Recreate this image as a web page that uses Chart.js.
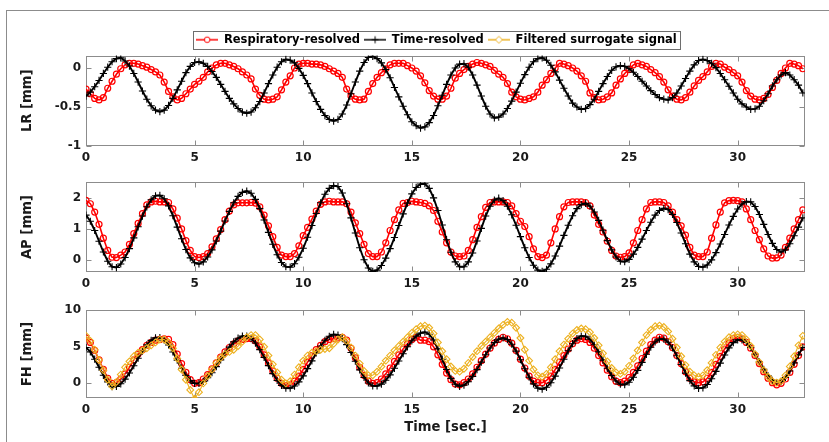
<!DOCTYPE html>
<html>
<head>
<meta charset="utf-8">
<title>LR / AP / FH motion</title>
<script src="https://cdn.jsdelivr.net/npm/chart.js@4.4.1/dist/chart.umd.min.js"></script>
<style>
  html, body { margin: 0; padding: 0; background: #fff; }
  #wrap { position: relative; width: 829px; height: 442px; overflow: hidden; }
  #frame { position: absolute; left: 6px; top: 10px; width: 840px; height: 450px;
           border-left: 1px solid #8c8c8c; border-top: 1px solid #8c8c8c; }
  canvas { position: absolute; left: 0; }
  #lrChart { top: 0; }
  #apChart { top: 170px; }
  #fhChart { top: 298px; }
</style>
</head>
<body>
<div id="wrap">
  <div id="frame"></div>
  <canvas id="lrChart" width="829" height="170"></canvas>
  <canvas id="apChart" width="829" height="128"></canvas>
  <canvas id="fhChart" width="829" height="144"></canvas>
</div>
<script>
// samples every 0.2 s, from 0 to 33 s (10 values per row = 2 s)
const SAMPLE_STEP = 0.2;

const timeTicks = [0, 5, 10, 15, 20, 25, 30];
const lrTicks = [-1, -0.5, 0];
const apTicks = [0, 1, 2];
const fhTicks = [0, 5, 10];

// LR [mm]
const lrResp = [
  -0.27,-0.33,-0.39,-0.41,-0.38,-0.26,-0.17,-0.08,-0.01,0.04,
  0.06,0.06,0.05,0.03,0.01,-0.02,-0.05,-0.09,-0.18,-0.30,
  -0.37,-0.41,-0.39,-0.33,-0.27,-0.21,-0.17,-0.12,-0.05,0.0,
  0.04,0.06,0.06,0.04,0.02,-0.01,-0.05,-0.09,-0.14,-0.27,
  -0.35,-0.40,-0.41,-0.40,-0.37,-0.28,-0.18,-0.10,0.0,0.05,
  0.06,0.06,0.05,0.05,0.04,0.02,-0.01,-0.04,-0.07,-0.12,
  -0.27,-0.36,-0.40,-0.41,-0.40,-0.30,-0.20,-0.12,-0.06,-0.01,
  0.04,0.06,0.06,0.06,0.03,0.0,-0.04,-0.10,-0.19,-0.29,
  -0.36,-0.40,-0.40,-0.36,-0.26,-0.13,-0.07,-0.02,0.02,0.05,
  0.07,0.06,0.04,0.02,-0.03,-0.08,-0.12,-0.20,-0.31,-0.37,
  -0.40,-0.41,-0.39,-0.37,-0.31,-0.22,-0.15,-0.07,0.0,0.06,
  0.05,0.03,0.0,-0.04,-0.10,-0.17,-0.32,-0.38,-0.41,-0.40,
  -0.37,-0.32,-0.22,-0.14,-0.07,-0.02,0.04,0.06,0.04,0.02,
  -0.02,-0.06,-0.11,-0.18,-0.28,-0.36,-0.40,-0.41,-0.38,-0.31,
  -0.23,-0.16,-0.11,-0.05,0.02,0.06,0.05,0.01,-0.02,-0.06,
  -0.10,-0.18,-0.29,-0.36,-0.40,-0.41,-0.39,-0.34,-0.25,-0.16,
  -0.07,0.0,0.06,0.05,0.03,-0.01
];
const lrTime = [
  -0.36,-0.31,-0.24,-0.16,-0.07,0.01,0.08,0.12,0.13,0.09,
  0.025,-0.07,-0.18,-0.295,-0.40,-0.485,-0.54,-0.56,-0.54,-0.48,
  -0.39,-0.28,-0.17,-0.06,0.02,0.07,0.08,0.06,0.02,-0.045,
  -0.12,-0.21,-0.30,-0.39,-0.46,-0.52,-0.565,-0.58,-0.565,-0.51,
  -0.43,-0.32,-0.20,-0.09,0.01,0.08,0.11,0.10,0.065,-0.005,
  -0.095,-0.20,-0.32,-0.43,-0.53,-0.61,-0.66,-0.68,-0.66,-0.59,
  -0.475,-0.33,-0.18,-0.04,0.07,0.135,0.15,0.12,0.065,-0.02,
  -0.125,-0.25,-0.37,-0.49,-0.60,-0.69,-0.74,-0.77,-0.755,-0.70,
  -0.61,-0.485,-0.35,-0.21,-0.09,0.0,0.05,0.055,0.01,-0.09,
  -0.22,-0.36,-0.49,-0.59,-0.64,-0.63,-0.59,-0.52,-0.425,-0.31,
  -0.195,-0.085,0.01,0.08,0.12,0.13,0.10,0.035,-0.05,-0.155,
  -0.26,-0.36,-0.45,-0.50,-0.53,-0.52,-0.47,-0.40,-0.30,-0.20,
  -0.11,-0.03,0.015,0.03,0.02,-0.01,-0.055,-0.11,-0.17,-0.23,
  -0.29,-0.34,-0.38,-0.40,-0.41,-0.38,-0.32,-0.23,-0.135,-0.04,
  0.04,0.095,0.11,0.095,0.06,0.005,-0.07,-0.15,-0.235,-0.32,
  -0.40,-0.46,-0.50,-0.53,-0.525,-0.49,-0.42,-0.33,-0.23,-0.15,
  -0.09,-0.06,-0.09,-0.15,-0.22,-0.32
];

// AP [mm]
const apResp = [
  1.93,1.82,1.55,1.15,0.70,0.30,0.08,0.07,0.15,0.25,
  0.50,0.85,1.18,1.50,1.78,1.88,1.90,1.88,1.88,1.86,
  1.65,1.35,1.00,0.62,0.30,0.10,0.07,0.10,0.20,0.42,
  0.68,0.98,1.30,1.58,1.78,1.85,1.85,1.85,1.86,1.84,
  1.72,1.45,1.10,0.75,0.40,0.15,0.10,0.10,0.20,0.45,
  0.78,1.05,1.32,1.58,1.80,1.88,1.90,1.88,1.88,1.88,
  1.82,1.55,1.20,0.85,0.50,0.20,0.10,0.10,0.25,0.55,
  0.95,1.30,1.62,1.83,1.86,1.90,1.88,1.86,1.83,1.75,
  1.60,1.25,0.90,0.55,0.25,0.12,0.10,0.12,0.30,0.65,
  1.05,1.40,1.70,1.86,1.88,1.88,1.88,1.86,1.75,1.50,
  1.25,1.08,0.75,0.35,0.10,0.07,0.15,0.55,1.00,1.40,
  1.72,1.86,1.88,1.88,1.88,1.86,1.75,1.45,1.15,0.90,
  0.60,0.30,0.12,0.08,0.10,0.22,0.55,0.95,1.30,1.65,
  1.86,1.88,1.88,1.86,1.75,1.55,1.30,1.10,0.80,0.40,
  0.15,0.10,0.10,0.25,0.70,1.13,1.55,1.85,1.92,1.93,
  1.92,1.88,1.65,1.30,0.95,0.65,0.35,0.12,0.05,0.06,
  0.15,0.40,0.70,1.00,1.30,1.62
];
const apTime = [
  1.45,1.25,0.95,0.60,0.25,-0.05,-0.23,-0.255,-0.14,0.07,
  0.36,0.71,1.07,1.42,1.72,1.95,2.08,2.09,1.98,1.75,
  1.43,1.06,0.68,0.33,0.06,-0.10,-0.14,-0.07,0.09,0.32,
  0.61,0.93,1.26,1.57,1.85,2.06,2.19,2.23,2.16,1.96,
  1.66,1.29,0.89,0.50,0.16,-0.09,-0.23,-0.24,-0.13,0.08,
  0.37,0.73,1.11,1.50,1.85,2.13,2.32,2.41,2.38,2.17,
  1.82,1.36,0.87,0.39,0.0,-0.27,-0.38,-0.34,-0.19,0.05,
  0.36,0.72,1.11,1.49,1.84,2.14,2.35,2.46,2.47,2.32,
  2.01,1.60,1.13,0.65,0.24,-0.07,-0.23,-0.23,-0.07,0.22,
  0.61,1.02,1.42,1.74,1.94,2.0,1.92,1.74,1.46,1.12,
  0.75,0.39,0.07,-0.18,-0.34,-0.38,-0.31,-0.135,0.12,0.44,
  0.79,1.12,1.43,1.66,1.79,1.83,1.74,1.55,1.28,0.96,
  0.62,0.32,0.09,-0.05,-0.065,0.01,0.18,0.40,0.67,0.95,
  1.22,1.45,1.60,1.67,1.63,1.47,1.21,0.87,0.52,0.18,
  -0.07,-0.22,-0.24,-0.17,-0.005,0.23,0.51,0.82,1.13,1.41,
  1.65,1.81,1.89,1.88,1.73,1.47,1.15,0.82,0.53,0.33,
  0.25,0.32,0.52,0.78,1.06,1.36
];

// FH [mm]
const fhResp = [
  6.2,5.6,4.5,3.2,1.9,0.7,0.0,0.1,0.6,1.3,
  2.2,3.2,4.0,4.6,5.2,5.6,5.9,6.0,6.1,6.0,
  5.3,4.0,2.7,1.5,0.5,0.0,0.1,0.6,1.2,2.0,
  2.8,3.6,4.3,4.9,5.4,5.8,6.0,6.1,6.1,5.8,
  5.0,3.9,2.8,1.7,0.7,0.0,-0.3,-0.2,0.3,1.0,
  1.9,2.9,3.8,4.6,5.2,5.7,6.0,6.1,6.2,6.3,
  5.9,4.8,3.5,2.2,1.1,0.3,0.0,0.1,0.6,1.3,
  2.1,3.0,3.9,4.7,5.4,6.0,6.3,5.9,5.9,5.7,
  5.0,3.9,2.6,1.4,0.5,-0.1,-0.2,0.1,0.6,1.3,
  2.2,3.1,4.0,4.8,5.5,6.0,6.3,6.1,5.5,4.5,
  3.3,2.1,1.0,0.3,0.1,0.1,0.4,1.0,1.9,2.9,
  3.8,4.7,5.4,5.9,6.1,6.0,5.6,4.8,3.8,2.8,
  1.8,0.9,0.3,0.1,0.3,0.8,1.5,2.4,3.4,4.4,
  5.3,5.9,6.3,6.2,5.7,4.9,3.8,2.7,1.6,0.7,
  0.2,0.1,0.2,0.7,1.5,2.6,3.7,4.7,5.5,6.1,
  6.3,6.1,5.6,4.8,3.8,2.7,1.6,0.7,0.1,-0.2,
  0.0,0.6,1.5,2.6,3.8,5.0
];
const fhTime = [
  4.90,4.30,3.30,2.20,1.10,0.20,-0.45,-0.42,-0.06,0.58,
  1.42,2.41,3.44,4.42,5.26,5.88,6.23,6.27,5.94,5.25,
  4.29,3.18,2.07,1.09,0.37,-0.01,-0.01,0.26,0.76,1.46,
  2.29,3.21,4.11,4.95,5.67,6.17,6.45,6.47,6.15,5.51,
  4.61,3.55,2.42,1.33,0.40,-0.28,-0.65,-0.67,-0.37,0.21,
  1.02,2.01,3.08,4.15,5.11,5.89,6.43,6.69,6.60,6.12,
  5.29,4.22,3.03,1.85,0.81,0.05,-0.35,-0.36,-0.10,0.43,
  1.16,2.06,3.05,4.05,5.00,5.82,6.46,6.86,7.00,6.72,
  5.92,4.71,3.30,1.89,0.68,-0.12,-0.40,-0.24,0.23,0.96,
  1.88,2.90,3.92,4.84,5.57,6.04,6.20,5.98,5.35,4.40,
  3.23,1.99,0.84,-0.07,-0.65,-0.80,-0.54,0.08,0.99,2.11,
  3.30,4.45,5.42,6.12,6.47,6.43,6.02,5.27,4.30,3.18,
  2.06,1.07,0.32,-0.12,-0.18,0.16,0.84,1.78,2.87,3.97,
  4.94,5.66,6.05,6.05,5.62,4.84,3.77,2.58,1.40,0.38,
  -0.34,-0.68,-0.61,-0.15,0.63,1.64,2.76,3.88,4.85,5.57,
  5.95,5.95,5.59,4.90,3.98,2.95,1.92,1.04,0.41,0.12,
  0.25,0.80,1.70,2.80,3.90,4.90
];
const fhSurrogate = [
  6.5,5.8,4.6,3.2,1.8,0.5,-0.4,0.2,1.2,2.2,
  3.0,3.7,4.2,4.5,4.8,5.2,5.6,6.0,6.0,5.6,
  4.8,3.4,1.9,0.5,-0.9,-2.1,-1.2,0.0,1.0,1.9,
  2.8,3.5,4.0,4.3,4.6,5.1,5.7,6.3,6.6,6.6,
  6.0,5.0,3.8,2.6,1.5,0.5,0.0,0.3,1.2,2.2,
  3.1,3.8,4.2,4.4,4.6,4.7,4.8,5.4,6.0,6.3,
  5.8,4.9,3.8,2.7,1.7,1.1,1.1,1.6,2.3,3.1,
  3.8,4.5,5.1,5.7,6.3,6.9,7.4,7.8,7.9,7.6,
  6.8,5.6,4.4,3.3,2.3,1.7,1.6,2.0,2.8,3.6,
  4.4,5.1,5.7,6.3,6.9,7.5,8.0,8.4,8.3,7.6,
  6.2,4.6,3.1,1.9,1.1,0.9,1.3,2.2,3.3,4.4,
  5.3,6.1,6.8,7.3,7.5,7.4,7.0,6.2,5.2,4.1,
  3.0,2.1,1.5,1.3,1.6,2.4,3.4,4.5,5.6,6.6,
  7.3,7.8,7.9,7.7,7.1,6.1,4.9,3.7,2.5,1.6,
  1.1,0.9,1.1,1.8,2.8,3.9,4.9,5.7,6.3,6.6,
  6.7,6.6,6.0,5.1,4.0,2.9,1.8,0.9,0.3,0.1,
  0.3,1.1,2.3,3.7,5.2,6.5
];

const time = lrResp.map((_, i) => Math.round(i * SAMPLE_STEP * 10) / 10);

const RED = '#ff0000';
const BLACK = '#000000';
const YELLOW = '#edb120';
const BOX = '#8c8c8c';
const TEXT = '#1a1a1a';

Chart.defaults.font.family = "'DejaVu Sans', sans-serif";
Chart.defaults.font.weight = 'bold';
Chart.defaults.color = TEXT;

function pts(values) {
  return values.map((v, i) => ({ x: time[i], y: v }));
}

const seriesStyle = {
  resp: { label: 'Respiratory-resolved', borderColor: RED, borderWidth: 1.6, pointStyle: 'circle',
          pointRadius: 3, pointBorderWidth: 1.2, pointBackgroundColor: 'rgba(0,0,0,0)', order: 3 },
  time: { label: 'Time-resolved', borderColor: BLACK, borderWidth: 1.9, pointStyle: 'cross',
          pointRadius: 3.6, pointBorderWidth: 1.1, order: 2 },
  surr: { label: 'Filtered surrogate signal', borderColor: YELLOW, borderWidth: 1.1, pointStyle: 'rectRot',
          pointRadius: 3.4, pointBorderWidth: 1.1, pointBackgroundColor: 'rgba(0,0,0,0)', order: 1 }
};

function ds(style, values) {
  return Object.assign({}, style, { data: pts(values), pointBorderColor: style.borderColor,
                                     tension: 0, fill: false });
}

// small line+marker pictures for the legend
function legendIcon(color, marker) {
  const c = document.createElement('canvas');
  c.width = 22; c.height = 12;
  const g = c.getContext('2d');
  g.strokeStyle = color; g.lineWidth = 1.5;
  g.beginPath(); g.moveTo(0, 6); g.lineTo(22, 6); g.stroke();
  g.lineWidth = 1;
  g.beginPath();
  if (marker === 'o') g.arc(11, 6, 2.8, 0, Math.PI * 2);
  if (marker === '+') { g.moveTo(11, 2.5); g.lineTo(11, 9.5); g.moveTo(7.5, 6); g.lineTo(14.5, 6); }
  if (marker === 'd') { g.moveTo(11, 2.5); g.lineTo(14.5, 6); g.lineTo(11, 9.5); g.lineTo(7.5, 6); g.closePath(); }
  g.fillStyle = '#fff'; g.fill(); g.stroke();
  return c;
}

const legendEntries = [
  { text: seriesStyle.resp.label, icon: legendIcon(RED, 'o') },
  { text: seriesStyle.time.label, icon: legendIcon(BLACK, '+') },
  { text: seriesStyle.surr.label, icon: legendIcon(YELLOW, 'd') }
];

// MATLAB-like box with inward tick marks
const axisBox = {
  id: 'axisBox',
  beforeDatasetsDraw(chart) {
    const { ctx, chartArea: a, scales } = chart;
    ctx.save();
    ctx.strokeStyle = BOX;
    ctx.lineWidth = 1;
    const L = Math.round(a.left) + 0.5, R = Math.round(a.right) - 0.5;
    const T = Math.round(a.top) + 0.5, B = Math.round(a.bottom) - 0.5;
    ctx.strokeRect(L, T, R - L, B - T);
    ctx.beginPath();
    scales.x.ticks.forEach(t => {
      const px = Math.round(scales.x.getPixelForValue(t.value)) + 0.5;
      ctx.moveTo(px, B); ctx.lineTo(px, B - 5);
      ctx.moveTo(px, T); ctx.lineTo(px, T + 5);
    });
    scales.y.ticks.forEach(t => {
      const py = Math.round(scales.y.getPixelForValue(t.value)) + 0.5;
      ctx.moveTo(L, py); ctx.lineTo(L + 5, py);
      ctx.moveTo(R, py); ctx.lineTo(R - 5, py);
    });
    ctx.stroke();
    ctx.restore();
  }
};

// move the legend right and put a frame round it
const legendFrame = {
  id: 'legendFrame',
  afterLayout(chart, args, opts) {
    const lg = chart.legend;
    if (lg) { lg.left += opts.dx; lg.right += opts.dx; }
  },
  afterDraw(chart) {
    const boxes = chart.legend && chart.legend.legendHitBoxes;
    if (!boxes || !boxes.length) return;
    const first = boxes[0], last = boxes[boxes.length - 1];
    const { ctx } = chart;
    ctx.save();
    ctx.strokeStyle = '#6e6e6e';
    ctx.lineWidth = 1;
    const x0 = Math.round(first.left - 3) + 0.5;
    const x1 = Math.round(last.left + last.width + 3) + 0.5;
    const y0 = Math.round(first.top - 3) + 0.5;
    const y1 = Math.round(first.top + first.height + 3) + 0.5;
    ctx.strokeRect(x0, y0, x1 - x0, y1 - y0);
    ctx.restore();
  }
};

function makeOptions(cfg) {
  return {
    responsive: false,
    animation: false,
    events: [],
    layout: { padding: { left: 0, right: 24, top: cfg.padTop, bottom: 0 } },
    plugins: {
      tooltip: { enabled: false },
      legend: cfg.legend || { display: false },
      legendFrame: { dx: 34 }
    },
    scales: {
      x: {
        type: 'linear', min: 0, max: 33.1,
        grid: { display: false, drawTicks: false },
        border: { display: false },
        afterBuildTicks: axis => { axis.ticks = timeTicks.map(v => ({ value: v })); },
        afterFit: scale => { scale.height = cfg.xHeight; },
        ticks: { padding: 5, maxRotation: 0, autoSkip: false, font: { size: 12, weight: 'bold' },
                 callback: v => String(v) },
        title: cfg.xTitle ? { display: true, text: cfg.xTitle, font: { size: 13.2, weight: 'bold' },
                              padding: { top: 0, bottom: 7 } } : { display: false }
      },
      y: {
        min: cfg.yMin, max: cfg.yMax,
        grid: { display: false, drawTicks: false },
        border: { display: false },
        afterBuildTicks: axis => { axis.ticks = cfg.yTicks.map(v => ({ value: v })); },
        afterFit: scale => { scale.width = 86; },
        ticks: { padding: 5, font: { size: 12, weight: 'bold' }, callback: v => String(v) },
        title: { display: true, text: cfg.yTitle, font: { size: 13.2, weight: 'bold' },
                 padding: { top: 20, bottom: 0 } }
      }
    }
  };
}

new Chart(document.getElementById('lrChart'), {
  type: 'line',
  data: { datasets: [ds(seriesStyle.resp, lrResp), ds(seriesStyle.time, lrTime)] },
  options: makeOptions({
    padTop: 30, xHeight: 24, yMin: -1, yMax: 0.16, yTicks: lrTicks, yTitle: 'LR [mm]',
    legend: {
      display: true, position: 'top',
      labels: {
        usePointStyle: true, pointStyleWidth: 22, padding: 4, color: '#000',
        font: { size: 11.5, weight: 'bold' },
        generateLabels: () => legendEntries.map((e, i) => ({
          text: e.text, pointStyle: e.icon, fontColor: '#000', hidden: false,
          lineWidth: 0, datasetIndex: i
        }))
      }
    }
  }),
  plugins: [axisBox, legendFrame]
});

new Chart(document.getElementById('apChart'), {
  type: 'line',
  data: { datasets: [ds(seriesStyle.resp, apResp), ds(seriesStyle.time, apTime)] },
  options: makeOptions({ padTop: 12, xHeight: 26, yMin: -0.4, yMax: 2.52, yTicks: apTicks, yTitle: 'AP [mm]' }),
  plugins: [axisBox]
});

new Chart(document.getElementById('fhChart'), {
  type: 'line',
  data: { datasets: [ds(seriesStyle.resp, fhResp), ds(seriesStyle.time, fhTime), ds(seriesStyle.surr, fhSurrogate)] },
  options: makeOptions({ padTop: 10, xHeight: 44, yMin: -2, yMax: 10, yTicks: fhTicks, yTitle: 'FH [mm]',
                         xTitle: 'Time [sec.]' }),
  plugins: [axisBox]
});
</script>
</body>
</html>
